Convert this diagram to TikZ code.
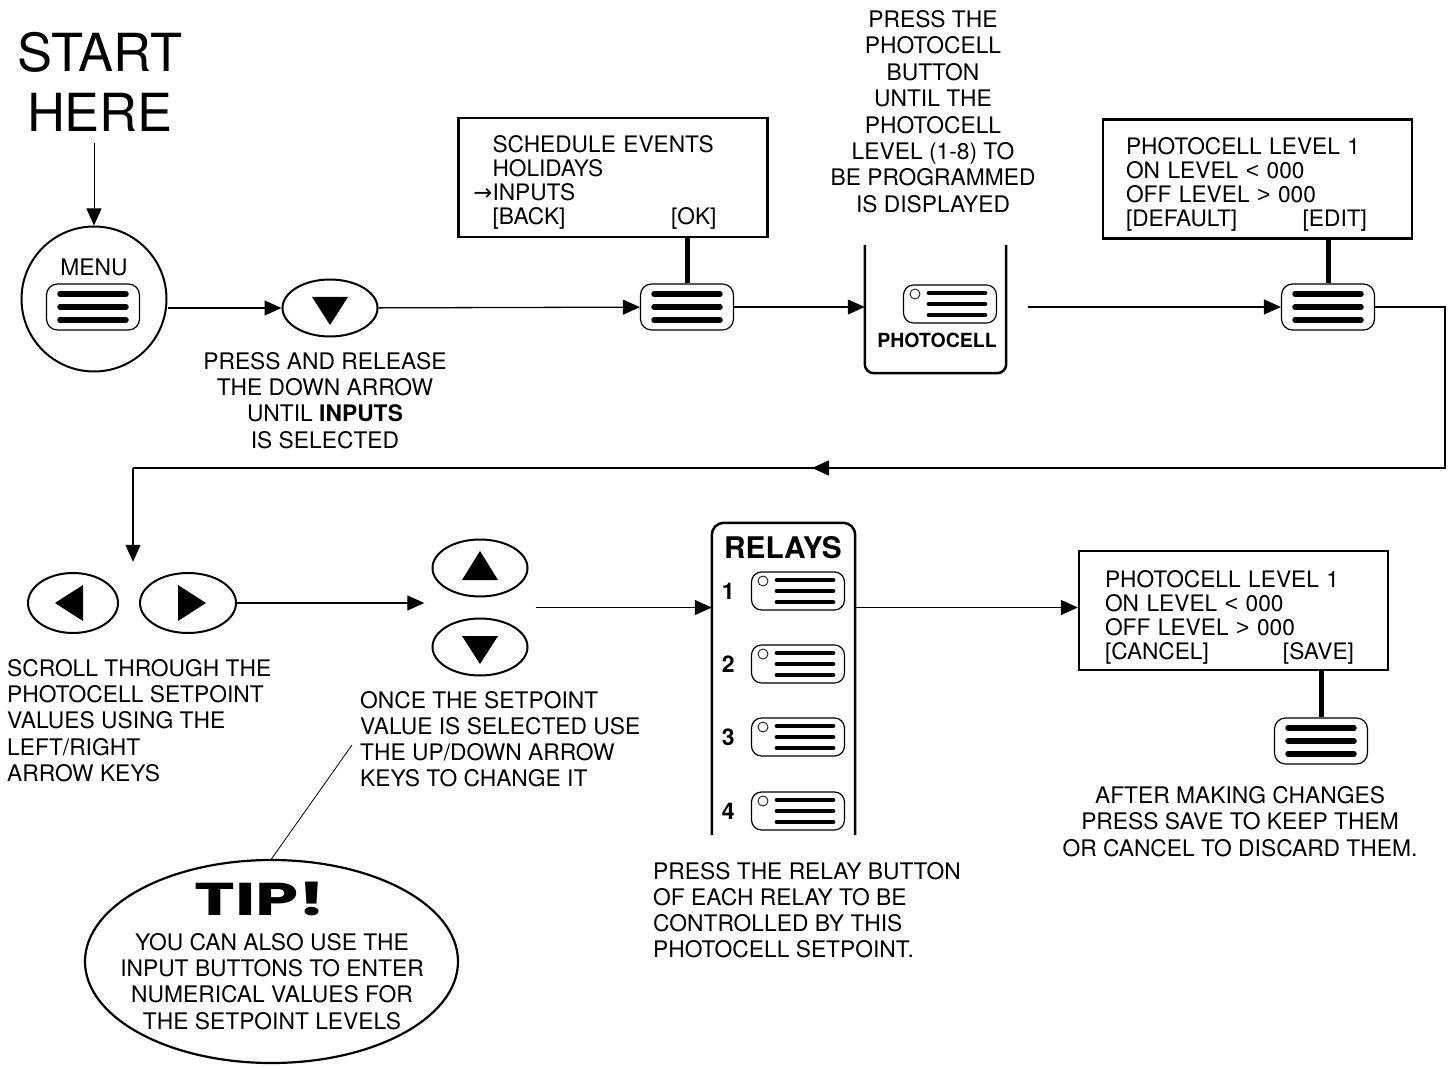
\documentclass[tikz,border=0pt]{standalone}
\usepackage{fontspec}
\setmainfont{TeX Gyre Heros}
\newfontfamily\tipfont{Poppins}[FakeStretch=1.5]
\newfontfamily\symfont{Liberation Sans}
\newfontfamily\arrowfont{DejaVu Sans}
\usetikzlibrary{shapes,arrows.meta,positioning,fit,calc}
\newcommand{\spread}{\hskip 0pt plus 1fill\relax}

\begin{document}
\begin{tikzpicture}[x=1pt, y=-1pt,
    >={Triangle[length=17pt, width=15pt]},
    flow/.style={->, line width=1.3pt},
    stem/.style={line width=5pt},
    panel/.style={line width=2.5pt},
    body/.style={font=\fontsize{22.8}{26.2}\selectfont, inner sep=0pt},
    ctxt/.style={body, align=center},
    ltxt/.style={body, align=left},
    screen/.style={draw, line width=2.2pt, minimum width=309pt, minimum height=119pt, inner sep=0pt},
    scrtxt/.style={inner sep=0pt, font=\fontsize{22.7}{24}\selectfont, align=left},
    keycap/.style={draw, ellipse, line width=2pt, minimum width=95pt, minimum height=57pt, inner sep=0pt},
    downkey/.style={keycap, path picture={\fill ([xshift=-18pt,yshift=11pt]path picture bounding box.center) -- ++(36pt,0pt) -- ++(-18pt,-28pt) -- cycle;}},
    upkey/.style={keycap, path picture={\fill ([xshift=-18pt,yshift=-12pt]path picture bounding box.center) -- ++(36pt,0pt) -- ++(-18pt,29pt) -- cycle;}},
    leftkey/.style={keycap, minimum width=90pt, minimum height=60pt, path picture={\fill ([xshift=10pt,yshift=18pt]path picture bounding box.center) -- ++(0pt,-36pt) -- ++(-28pt,18pt) -- cycle;}},
    rightkey/.style={keycap, minimum width=96pt, minimum height=60pt, path picture={\fill ([xshift=-10pt,yshift=18pt]path picture bounding box.center) -- ++(0pt,-36pt) -- ++(28pt,18pt) -- cycle;}},
    btn/.style={draw, line width=1.2pt, rounded corners=11pt, minimum width=93pt, minimum height=46pt, inner sep=0pt,
      path picture={\foreach \dy in {-13,0,13}
        \draw[line width=5.5pt, line cap=round] ([xshift=-33pt,yshift=\dy pt]path picture bounding box.center) -- ++(66pt,0pt);}},
    ledbtn/.style={draw, line width=1.2pt, rounded corners=10pt, minimum width=93pt, minimum height=38pt, inner sep=0pt,
      path picture={\draw[line width=0.8pt] ([xshift=-35pt,yshift=10pt]path picture bounding box.center) circle[radius=5pt];
        \foreach \dy in {-11,0,11}
        \draw[line width=4.8pt, line cap=round] ([xshift=-21pt,yshift=\dy pt]path picture bounding box.center) -- ++(56pt,0pt);}}
  ]
    \useasboundingbox (0,0) rectangle (1452,1067);

    % Start and menu key
    \node[ctxt, font=\fontsize{52.5}{60}\selectfont] (start) at (100,82) {START\\HERE};
    \node[draw, circle, line width=2pt, minimum size=145pt, inner sep=0pt] (menu) at (94,299) {};
    \node[ctxt] (menulbl) at (94,267) {MENU};
    \node[btn] (mbtn) at (93,307) {};
    \draw[->, line width=0.8pt] (menu.north |- 0,143) -- (menu.north);

    % Down arrow key
    \node[downkey] (dkey) at (330,308) {};
    \node[ctxt] (presslbl) at (325,400.5) {PRESS AND RELEASE\\THE DOWN ARROW\\UNTIL \textbf{INPUTS}\\IS SELECTED};
    \draw[flow] (dkey -| menu.east) -- (dkey);

    % First screen
    \node[screen] (scr1) at (613,177.5) {};
    \node[scrtxt, text width=243pt] (scr1txt) at ($(scr1.center)+(1,5)$) {SCHEDULE EVENTS\\HOLIDAYS\\\leavevmode\llap{\arrowfont →}INPUTS\\{[BACK]}\spread[OK]\rule{19pt}{0pt}};
    \node[btn] (okbtn) at (687,307) {};
    \draw[stem] (okbtn |- scr1.south) -- (okbtn.north);
    \draw[flow] (dkey) -- (okbtn);

    % Photocell panel
    \node[minimum width=141pt, minimum height=128pt, inner sep=0pt] (pcpanel) at (935.5,309) {};
    \draw[panel, rounded corners=9pt] (pcpanel.north west) -- (pcpanel.south west) -- (pcpanel.south east) -- (pcpanel.north east);
    \node[ledbtn] (pcbtn) at (950,304) {};
    \node[font=\bfseries\fontsize{19.5}{20}\selectfont, inner sep=0pt] (pclbl) at (937,340) {PHOTOCELL};
    \node[ctxt, font=\fontsize{22.8}{26.4}\selectfont] (pcnote) at (933,111.5) {PRESS THE\\PHOTOCELL\\BUTTON\\UNTIL THE\\PHOTOCELL\\LEVEL (1-8) TO\\BE PROGRAMMED\\IS DISPLAYED};
    \draw[flow] (okbtn) -- (okbtn -| pcpanel.west);

    % Second screen
    \node[screen] (scr2) at (1257.5,179) {};
    \node[scrtxt, text width=263pt] (scr2txt) at ($(scr2.center)+(0,5)$) {PHOTOCELL LEVEL 1\\ON LEVEL {\symfont<} 000\\OFF LEVEL {\symfont>} 000\\{[DEFAULT]}\spread[EDIT]\rule{22pt}{0pt}};
    \node[btn] (editbtn) at (1328,307) {};
    \draw[stem] (editbtn |- scr2.south) -- (editbtn.north);
    \draw[flow] ($(okbtn -| pcpanel.east)+(22,0)$) -- (editbtn);

    % Left/right keys
    \node[leftkey] (lkey) at (73,603) {};
    \node[rightkey] (rkey) at (188,603) {};
    \node[fit=(lkey)(rkey), inner sep=10pt] (lrpair) {};
    \node[ltxt, anchor=west] (scrolllbl) at (7,720.5) {SCROLL THROUGH THE\\PHOTOCELL SETPOINT\\VALUES USING THE\\LEFT/RIGHT\\ARROW KEYS};

    % Loop back
    \coordinate (bendR) at (1445,468);
    \coordinate (bendL) at (133,468);
    \coordinate (midL) at (812,468);
    \draw[line width=1.3pt] (editbtn.east) -| (bendR) -- (bendL);
    \draw[flow] (bendR) -- (midL);
    \draw[flow] (bendL) -- (bendL |- lrpair.north);

    % Up/down keys
    \node[upkey] (ukey) at (480,568) {};
    \node[downkey] (dkey2) at (480,647) {};
    \node[fit=(ukey)(dkey2), inner sep=7pt] (udpair) {};
    \draw[flow] (rkey) -- (rkey -| udpair.west);
    \node[ltxt, anchor=west] (oncelbl) at (360,739) {ONCE THE SETPOINT\\VALUE IS SELECTED USE\\THE UP/DOWN ARROW\\KEYS TO CHANGE IT};

    % Relays
    \node[minimum width=143pt, minimum height=312pt, inner sep=0pt] (relays) at (783.5,679) {};
    \draw[panel, rounded corners=12pt] (relays.south west) -- (relays.north west) -- (relays.north east) -- (relays.south east);
    \node[font=\bfseries\fontsize{29.8}{30}\selectfont, inner sep=0pt] (relayslbl) at (783,548) {RELAYS};
    \foreach \i/\yy in {1/591,2/664,3/737,4/811} {
      \node[ledbtn] (r\i) at (798,\yy) {};
      \node[font=\bfseries\fontsize{23}{24}\selectfont, inner sep=0pt, left=16pt of r\i] (n\i) {\i};
    }
    \draw[flow] (udpair.east) -- (udpair.east -| relays.west);
    \node[ltxt, anchor=west] (relaylbl) at (653,910) {PRESS THE RELAY BUTTON\\OF EACH RELAY TO BE\\CONTROLLED BY THIS\\PHOTOCELL SETPOINT.};

    % Save screen
    \node[screen] (scr3) at (1233.5,610.5) {};
    \node[scrtxt, text width=257pt] (scr3txt) at ($(scr3.center)+(0,6.5)$) {PHOTOCELL LEVEL 1\\ON LEVEL {\symfont<} 000\\OFF LEVEL {\symfont>} 000\\{[CANCEL]}\spread[SAVE]\rule{8pt}{0pt}};
    \node[btn] (savebtn) at (1321,741) {};
    \draw[stem] (savebtn |- scr3.south) -- (savebtn.north);
    \draw[flow] (udpair.east -| relays.east) -- (udpair.east -| scr3.west);
    \node[ctxt] (savelbl) at (1240,821.5) {AFTER MAKING CHANGES\\PRESS SAVE TO KEEP THEM\\OR CANCEL TO DISCARD THEM.};

    % Tip
    \node[draw, ellipse, line width=2.2pt, minimum width=373pt, minimum height=203pt, inner sep=0pt] (tip) at (271.5,961.5) {};
    \node[font=\tipfont\bfseries\fontsize{46}{48}\selectfont, inner sep=0pt] (tiphead) at (260,899) {TIP!};
    \node[ctxt] (tipbody) at (272,981.5) {YOU CAN ALSO USE THE\\INPUT BUTTONS TO ENTER\\NUMERICAL VALUES FOR\\THE SETPOINT LEVELS};
    \draw[line width=0.8pt] ([xshift=-8pt,yshift=-6pt]oncelbl.west) -- (tip.north);
\end{tikzpicture}
\end{document}
